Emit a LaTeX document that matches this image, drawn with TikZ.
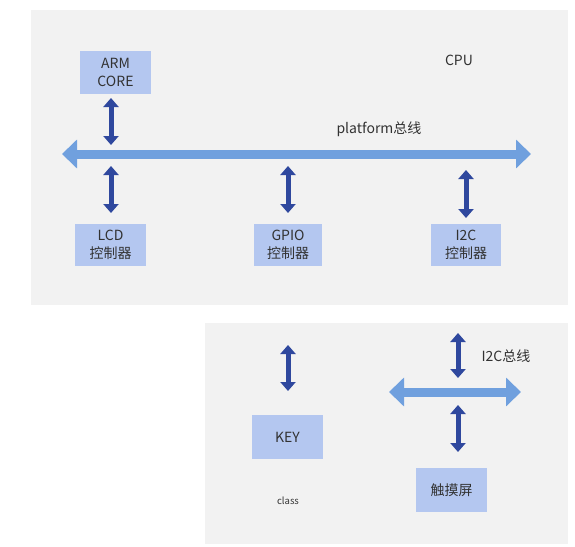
\documentclass[tikz,border=0pt]{standalone}
\usepackage{fontspec}
\setmainfont{Noto Sans CJK SC}
\usetikzlibrary{arrows.meta}
\definecolor{bgc}{RGB}{242,242,242}
\definecolor{boxc}{RGB}{180,199,240}
\definecolor{busc}{RGB}{112,160,222}
\definecolor{arrc}{RGB}{47,72,158}
\definecolor{txtc}{RGB}{50,50,50}
\begin{document}
\begin{tikzpicture}[x=1pt,y=-1pt,
  panel/.style={fill=bgc,draw=none},
  blk/.style={fill=boxc,draw=none,font=\fontsize{14}{18}\selectfont,text=txtc,align=center,inner sep=0pt},
  lbl/.style={font=\fontsize{14}{18}\selectfont,text=txtc},
  bus/.style={draw=busc,line width=9pt,{Triangle[width=28pt,length=15pt]}-{Triangle[width=28pt,length=15pt]}},
  link/.style={draw=arrc,line width=5pt,{Triangle[width=15pt,length=9pt]}-{Triangle[width=15pt,length=9pt]}}]
\useasboundingbox (0,0) rectangle (575,546);
\fill[white] (0,0) rectangle (575,546);
% panels
\path[panel] (31,10) rectangle (568,305);
\path[panel] (205,323) rectangle (568,544);
% boxes
\node[blk,minimum width=71pt,minimum height=43pt] (arm) at (115.5,72.5) {ARM\\CORE};
\node[blk,minimum width=71pt,minimum height=42pt] (lcd) at (110.5,245) {LCD\\控制器};
\node[blk,minimum width=68pt,minimum height=42pt] (gpio) at (288,245) {GPIO\\控制器};
\node[blk,minimum width=70pt,minimum height=42pt] (i2c) at (466,245) {I2C\\控制器};
\node[blk,minimum width=71pt,minimum height=44pt] (key) at (287.5,437) {KEY};
\node[blk,minimum width=71pt,minimum height=44pt] (touch) at (451.5,490) {触摸屏};
% labels
\node[lbl] (cpu) at (459,60) {CPU};
\node[lbl] (plat) at (379,129) {platform总线};
\node[lbl] (i2cbus) at (506,356) {I2C总线};
\node[font=\fontsize{9.5}{11}\selectfont,text=txtc] (cls) at (288,501) {class};
% buses
\coordinate (pbL) at (62,154);
\coordinate (pbR) at (531,154);
\draw[bus] (pbL) -- (pbR);
\coordinate (ibL) at (389,392);
\coordinate (ibR) at (521,392);
\draw[bus] (ibL) -- (ibR);
% links
\coordinate (a1) at (111,98);  \coordinate (a2) at (111,145);
\coordinate (b1) at (111,166); \coordinate (b2) at (111,213);
\coordinate (c1) at (288,166); \coordinate (c2) at (288,213);
\coordinate (d1) at (466,170); \coordinate (d2) at (466,218);
\coordinate (e1) at (288,345); \coordinate (e2) at (288,391);
\coordinate (f1) at (458,333); \coordinate (f2) at (458,378);
\coordinate (g1) at (458,405); \coordinate (g2) at (458,452);
\draw[link] (a1) -- (a2);
\draw[link] (b1) -- (b2);
\draw[link] (c1) -- (c2);
\draw[link] (d1) -- (d2);
\draw[link] (e1) -- (e2);
\draw[link] (f1) -- (f2);
\draw[link] (g1) -- (g2);
\end{tikzpicture}
\end{document}
